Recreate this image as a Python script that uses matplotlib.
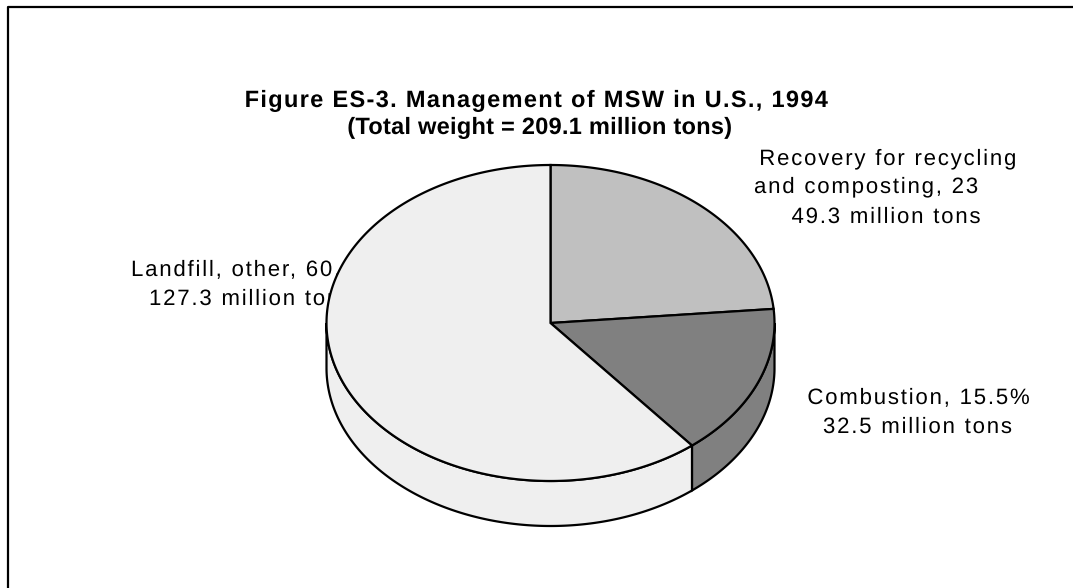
import numpy as np
import matplotlib
matplotlib.use("Agg")
import matplotlib.pyplot as plt
from matplotlib.patches import Polygon
from matplotlib.patheffects import AbstractPathEffect
from matplotlib.textpath import TextPath
from matplotlib.font_manager import FontProperties
from matplotlib.path import Path

# === Data ===
categories = ["Recovery for recycling and composting", "Combustion", "Landfill, other"]
tons = [49.3, 32.5, 127.3]          # million tons
percents = [23.6, 15.5, 60.9]
colors = ["#C0C0C0", "#808080", "#EFEFEF"]
title_lines = ["Figure ES-3. Management of MSW in U.S., 1994",
               "(Total weight = 209.1 million tons)"]
# label lines as they show in the figure (Excel cut off the recovery percent)
recovery_lines = ["Recovery for recycling", "and composting, 23", "49.3 million tons"]
combustion_lines = ["Combustion, 15.5%", "32.5 million tons"]
landfill_lines = ["Landfill, other, 60.9%", "127.3 million tons"]

FONT = "Liberation Sans"


class Tracking(AbstractPathEffect):
    """Adds letter spacing (Excel style) to a single line of text."""

    def __init__(self, text, weight="normal", track=0.08, anchor="center"):
        super().__init__()
        fp = FontProperties(family=FONT, weight=weight, size=100)
        rights = []
        for k in range(1, len(text) + 1):
            p = TextPath((0, 0), text[:k], prop=fp)
            ok = p.codes != Path.CLOSEPOLY if p.codes is not None else slice(None)
            v = p.vertices[ok]
            rights.append(v[:, 0].max() if len(v) else -np.inf)
        self.rights = np.maximum.accumulate(rights)
        self.track = track * 100
        self.n = len(text)
        self.anchor = anchor

    def draw_path(self, renderer, gc, tpath, affine, rgbFace=None):
        verts = tpath.vertices.copy()
        codes = tpath.codes
        starts = np.flatnonzero(codes == Path.MOVETO)
        ends = list(starts[1:]) + [len(codes)]
        for s0, s1 in zip(starts, ends):
            seg = verts[s0:s1][codes[s0:s1] != Path.CLOSEPOLY]
            xc = 0.5 * (seg[:, 0].min() + seg[:, 0].max())
            k = min(np.searchsorted(self.rights, xc), self.n - 1)
            verts[s0:s1, 0] += self.track * k
        if self.anchor == "center":
            verts[:, 0] -= self.track * (self.n - 1) / 2
        renderer.draw_path(gc, Path(verts, codes), affine, rgbFace)


def tracked_text(ax, x, y, s, ha="center", track=0.08, size=16, weight="normal", z=2):
    ax.text(x, y, s, ha=ha, va="baseline", family=FONT, fontsize=size,
            fontweight=weight, color="black", zorder=z,
            path_effects=[Tracking(s, weight=weight, track=track, anchor=ha)])


# === Geometry of the 3D pie (pixel-like coordinates) ===
cx, cy = 550.5, 323
a, b = 224, 158
depth = 45
lw = 1.6

fig = plt.figure(figsize=(10.73, 5.88), dpi=100)
ax = fig.add_axes([0, 0, 1, 1])
ax.set_xlim(0, 1073)
ax.set_ylim(588, 0)
ax.axis("off")


def arc(t0, t1, dy=0, n=300):
    t = np.radians(np.linspace(t0, t1, n))
    return np.column_stack([cx + a * np.cos(t), cy - b * np.sin(t) + dy])


# angles: start at 12 o'clock, go clockwise
total = sum(tons)
bounds = [90.0]
for v in tons:
    bounds.append(bounds[-1] - 360.0 * v / total)

# side walls (front half only: angles between -180 and 0)
for i in range(len(tons)):
    hi, lo = bounds[i], bounds[i + 1]
    s_lo, s_hi = max(lo, -180.0), min(hi, 0.0)
    if s_hi <= s_lo:
        continue
    pts = np.vstack([arc(s_lo, s_hi), arc(s_hi, s_lo, dy=depth)])
    ax.add_patch(Polygon(pts, closed=True, facecolor=colors[i],
                         edgecolor="black", lw=lw, zorder=3))

# top faces
for i in range(len(tons)):
    hi, lo = bounds[i], bounds[i + 1]
    pts = np.vstack([[cx, cy], arc(hi, lo)])
    ax.add_patch(Polygon(pts, closed=True, facecolor=colors[i],
                         edgecolor="black", lw=lw, joinstyle="miter", zorder=4))

# === Labels (drawn under the pie, like Excel) ===
tracked_text(ax, 888, 165, recovery_lines[0])
tracked_text(ax, 754, 193, recovery_lines[1], ha="left")
tracked_text(ax, 886, 223, recovery_lines[2])
tracked_text(ax, 918.5, 404, combustion_lines[0])
tracked_text(ax, 917.5, 433, combustion_lines[1])
tracked_text(ax, 131, 276, landfill_lines[0], ha="left")
tracked_text(ax, 149, 305, landfill_lines[1], ha="left")

# === Title ===
tracked_text(ax, 537, 107, title_lines[0], size=17, weight="bold", track=0.055, z=6)
tracked_text(ax, 540, 134, title_lines[1], size=17, weight="bold", track=0.01, z=6)

# === Chart area border (left and top visible) ===
ax.plot([8, 8, 1080], [600, 7, 7], color="black", lw=1.6, zorder=5)

fig.savefig("out.png", dpi=100)
plt.close(fig)
